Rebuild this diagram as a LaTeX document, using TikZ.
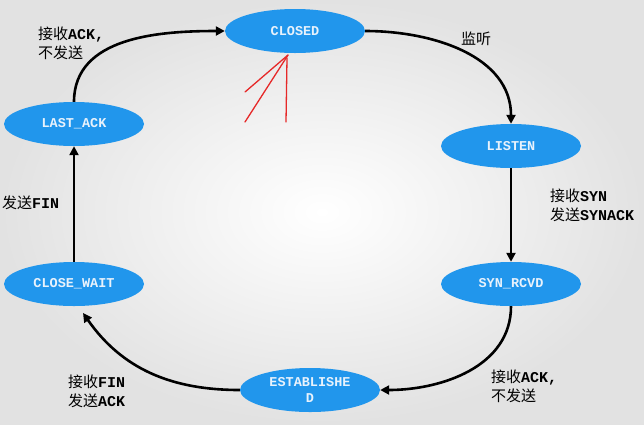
\documentclass[tikz,border=0pt]{standalone}
\usepackage{fontspec}
\setmonofont{Liberation Mono}
\newfontfamily\zhfont{Noto Sans CJK SC}
\usepackage{xcolor}
\usetikzlibrary{shapes,arrows.meta,positioning,calc}
\definecolor{stateblue}{RGB}{33, 150, 236}
\definecolor{statetext}{RGB}{232, 242, 252}
\definecolor{bggray}{RGB}{226, 226, 226}
\definecolor{markred}{RGB}{230, 40, 40}
\newcommand{\zh}[1]{{\zhfont\mdseries #1}}

\tikzset{
    state/.style={ellipse, fill=stateblue, minimum width=140pt, minimum height=44pt, inner sep=0pt,
        text=statetext, align=center, font=\ttfamily\bfseries\fontsize{13.5}{16}\selectfont},
    trans/.style={->, line width=2.6pt, color=black},
    lbl/.style={anchor=west, align=left, inner sep=0pt, font=\ttfamily\bfseries\fontsize{15}{19}\selectfont}
}

\begin{document}
\begin{tikzpicture}[x=1pt, y=-1pt, >={Triangle[length=9pt,width=9pt]}]
    % Background
    \useasboundingbox (0,0) rectangle (644,424);
    \shade[inner color=white, outer color=bggray] (0,0) rectangle (644,424);

    % States
    \node[state] (closed)    at (295,31)  {CLOSED};
    \node[state] (listen)    at (511,146) {LISTEN};
    \node[state] (synrcvd)   at (511,284) {SYN\_RCVD};
    \node[state] (estab)     at (310,390) {ESTABLISHE\\D};
    \node[state] (closewait) at (74,284)  {CLOSE\_WAIT};
    \node[state] (lastack)   at (74,124)  {LAST\_ACK};
    \coordinate (cwtip) at (83,313);

    % Transitions
    \draw[trans] (closed.east) to[out=0, in=90] (listen.north);
    \draw[trans] (listen.south) -- (synrcvd.north);
    \draw[trans] (synrcvd.south) to[out=270, in=0] (estab.east);
    \draw[trans] (estab.west) to[out=180, in=-55] (cwtip);
    \draw[trans] (closewait.north) -- (lastack.south);
    \draw[trans] (lastack.north) to[out=90, in=180] (closed.west);

    % Labels
    \node[lbl] (lbllisten) at (461,39)  {\zh{监听}};
    \node[lbl] (lblsyn)    at (550,205) {\zh{接收}SYN\\\zh{发送}SYNACK};
    \node[lbl] (lblack)    at (491,386) {\zh{接收}ACK,\\\zh{不发送}};
    \node[lbl] (lblfin)    at (68,391)  {\zh{接收}FIN\\\zh{发送}ACK};
    \node[lbl] (lblsend)   at (2,203)   {\zh{发送}FIN};
    \node[lbl] (lblclose)  at (38,43)   {\zh{接收}ACK,\\\zh{不发送}};

    % Red marks
    \coordinate (marktip) at (288,55);
    \draw[markred, line width=1.3pt, line cap=round] (245,92) -- (marktip);
    \draw[markred, line width=1.3pt, line cap=round] (245,122) -- (marktip);
    \draw[markred, line width=1.3pt, line cap=round] (286,122) -- ($(marktip)+(-1,3)$);
\end{tikzpicture}
\end{document}
